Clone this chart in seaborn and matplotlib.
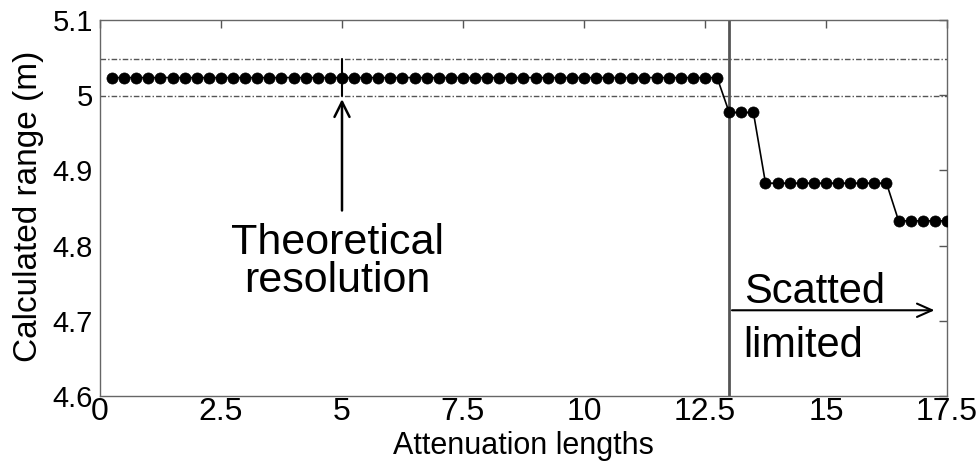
import numpy as np
import pandas as pd
import matplotlib
matplotlib.use("Agg")
import matplotlib.pyplot as plt
import seaborn as sns

# ---- data ----
attenuation = [0.25, 0.5, 0.75, 1.0, 1.25, 1.5, 1.75, 2.0, 2.25, 2.5,
               2.75, 3.0, 3.25, 3.5, 3.75, 4.0, 4.25, 4.5, 4.75, 5.0,
               5.25, 5.5, 5.75, 6.0, 6.25, 6.5, 6.75, 7.0, 7.25, 7.5,
               7.75, 8.0, 8.25, 8.5, 8.75, 9.0, 9.25, 9.5, 9.75, 10.0,
               10.25, 10.5, 10.75, 11.0, 11.25, 11.5, 11.75, 12.0, 12.25, 12.5,
               12.75, 13.0, 13.25, 13.5, 13.75, 14.0, 14.25, 14.5, 14.75, 15.0,
               15.25, 15.5, 15.75, 16.0, 16.25, 16.5, 16.75, 17.0, 17.25, 17.5]
calc_range = ([5.0235] * 51 + [4.977] * 3 + [4.883] * 11 + [4.833] * 5)

resolution_band = [4.9985, 5.0475]
scatter_limit = 13.0
x_ticks = [0, 2.5, 5, 7.5, 10, 12.5, 15, 17.5]
x_tick_labels = ["0", "2.5", "5", "7.5", "10", "12.5", "15", "17.5"]
y_ticks = [4.6, 4.7, 4.8, 4.9, 5.0, 5.1]
y_tick_labels = ["4.6", "4.7", "4.8", "4.9", "5", "5.1"]

df = pd.DataFrame({"Attenuation lengths": attenuation,
                   "Calculated range (m)": calc_range})

sns.set_theme(style="white")
plt.rcParams["font.family"] = ["Liberation Sans", "Arimo", "DejaVu Sans"]
plt.rcParams["text.color"] = "black"
plt.rcParams["axes.labelcolor"] = "black"
plt.rcParams["xtick.color"] = "#555555"
plt.rcParams["ytick.color"] = "#555555"
plt.rcParams["xtick.labelcolor"] = "black"
plt.rcParams["ytick.labelcolor"] = "black"

narrow = ["Liberation Sans Narrow", "Liberation Sans", "DejaVu Sans"]

fig = plt.figure(figsize=(9.78, 4.65), dpi=100)
ax = fig.add_axes([100 / 978, 1 - 396 / 465, 847 / 978, 376 / 465])

# resolution band lines
for yv in resolution_band:
    ax.axhline(yv, color="#555555", lw=1.0, ls=(0, (4, 1.5, 1, 1.5)), zorder=1)

# scatter-limited boundary
ax.axvline(scatter_limit, color="#555555", lw=2.0, zorder=1)

sns.lineplot(data=df, x="Attenuation lengths", y="Calculated range (m)",
             ax=ax, color="black", lw=1.2, marker="o", markersize=8,
             markeredgecolor="black", markeredgewidth=0.5, zorder=3)

# theoretical resolution arrow
ax.plot([5, 5], [resolution_band[0], resolution_band[1]], color="black", lw=1.5, zorder=2)
ax.annotate("", xy=(5, resolution_band[0]), xytext=(5, 4.843),
            arrowprops=dict(arrowstyle="->,head_length=0.9,head_width=0.45",
                            color="black", lw=1.8))
ax.text(4.9, 4.7885, "Theoretical", ha="center", va="baseline", fontsize=31)
ax.text(4.9, 4.738, "resolution", ha="center", va="baseline", fontsize=31)

# scatter limited arrow
ax.annotate("", xy=(17.3, 4.714), xytext=(13.0, 4.714),
            arrowprops=dict(arrowstyle="->,head_length=0.9,head_width=0.4",
                            color="black", lw=1.5))
ax.text(13.3, 4.7235, "Scatted", ha="left", va="baseline", fontsize=30)
ax.text(13.3, 4.652, "limited", ha="left", va="baseline", fontsize=30)

ax.set_xlim(0, 17.5)
ax.set_ylim(4.6, 5.1)
ax.set_xticks(x_ticks)
ax.set_xticklabels(x_tick_labels, fontsize=23, family=narrow)
ax.set_yticks(y_ticks)
ax.set_yticklabels(y_tick_labels, fontsize=21)
ax.tick_params(direction="in", length=6, width=1,
               top=True, right=True, pad=5)
ax.tick_params(axis="x", pad=1)

ax.set_xlabel("Attenuation lengths", fontsize=22, family=narrow)
ax.xaxis.set_label_coords(0.5, -0.094)
ax.set_ylabel("Calculated range (m)", fontsize=24)
ax.yaxis.set_label_coords(-0.066, 0.505)

for s in ax.spines.values():
    s.set_color("#666666")
    s.set_linewidth(1.0)
    s.set_visible(True)

fig.savefig("out.png", dpi=100, facecolor="white")
